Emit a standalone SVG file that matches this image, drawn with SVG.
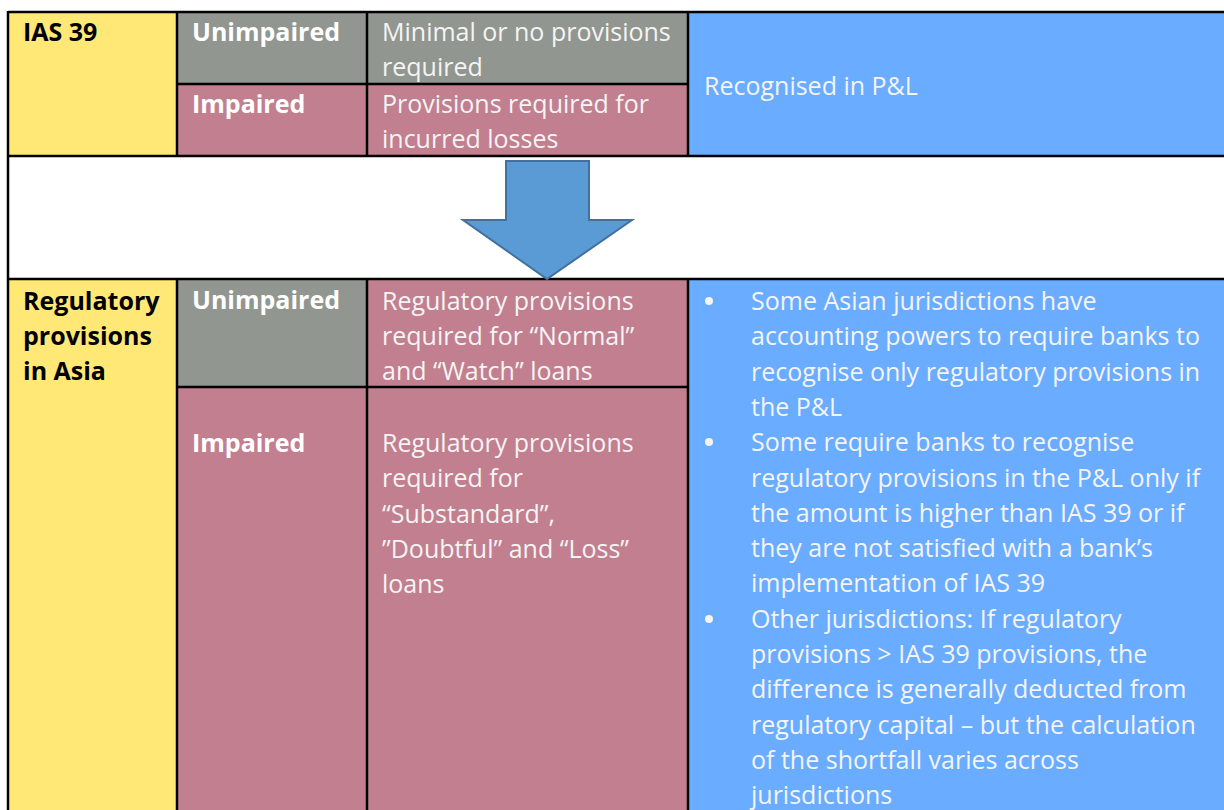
<svg xmlns="http://www.w3.org/2000/svg" width="1224" height="810" viewBox="0 0 1224 810">
<style>
.y{fill:#FFE876}.g{fill:#919690}.p{fill:#C27F8F}.b{fill:#6AACFF}
.t{font-family:"Open Sans","Noto Sans","Liberation Sans",sans-serif;font-size:25px;fill:#F4F4F4}
.tb{font-family:"Open Sans","Noto Sans","Liberation Sans",sans-serif;font-size:25px;font-weight:bold;fill:#FFFFFF}
.k{font-family:"Open Sans","Noto Sans","Liberation Sans",sans-serif;font-size:25px;font-weight:bold;fill:#000}
.ln{stroke:#000;stroke-width:2.5;fill:none}
</style>
<rect width="1224" height="810" fill="#fff"/>
<g id="ias39-label"><rect class="y" x="8" y="12" width="169" height="144"/><text class="k" x="23" y="41">IAS 39</text></g>
<g id="ias39-unimpaired"><rect class="g" x="177" y="12" width="190" height="72"/><text class="tb" x="192" y="41">Unimpaired</text></g>
<g id="ias39-unimpaired-desc"><rect class="g" x="367" y="12" width="321" height="72"/><text class="t" x="382" y="41">Minimal or no provisions</text><text class="t" x="382" y="76">required</text></g>
<g id="ias39-impaired"><rect class="p" x="177" y="84" width="190" height="72"/><text class="tb" x="192" y="113">Impaired</text></g>
<g id="ias39-impaired-desc"><rect class="p" x="367" y="84" width="321" height="72"/><text class="t" x="382" y="113">Provisions required for</text><text class="t" x="382" y="148">incurred losses</text></g>
<g id="ias39-pl"><rect class="b" x="688" y="12" width="536" height="144"/><text class="t" x="704" y="95">Recognised in P&amp;L</text></g>

<g id="asia-label"><rect class="y" x="8" y="279" width="169" height="531"/><text class="k" x="23" y="310">Regulatory</text><text class="k" x="23" y="345">provisions</text><text class="k" x="23" y="380">in Asia</text></g>
<g id="asia-unimpaired"><rect class="g" x="177" y="279" width="190" height="108"/><text class="tb" x="192" y="309">Unimpaired</text></g>
<g id="asia-unimpaired-desc"><rect class="p" x="367" y="279" width="321" height="108"/><text class="t" x="382" y="310">Regulatory provisions</text><text class="t" x="382" y="345">required for “Normal”</text><text class="t" x="382" y="380">and “Watch” loans</text></g>
<g id="asia-impaired"><rect class="p" x="177" y="387" width="190" height="423"/><text class="tb" x="192" y="452">Impaired</text></g>
<g id="asia-impaired-desc"><rect class="p" x="367" y="387" width="321" height="423"/><text class="t" x="382" y="452">Regulatory provisions</text><text class="t" x="382" y="487">required for</text><text class="t" x="382" y="523">“Substandard”,</text><text class="t" x="382" y="558">”Doubtful” and “Loss”</text><text class="t" x="382" y="593">loans</text></g>
<g id="asia-pl"><rect class="b" x="688" y="279" width="536" height="531"/>
<g fill="#F4F4F4"><circle cx="709" cy="301" r="4"/><circle cx="709" cy="442" r="4"/><circle cx="709" cy="619" r="4"/></g>
<text class="t" x="751" y="310">Some Asian jurisdictions have</text>
<text class="t" x="751" y="345.3">accounting powers to require banks to</text>
<text class="t" x="751" y="380.6">recognise only regulatory provisions in</text>
<text class="t" x="751" y="415.9">the P&amp;L</text>
<text class="t" x="751" y="451.2">Some require banks to recognise</text>
<text class="t" x="751" y="486.5">regulatory provisions in the P&amp;L only if</text>
<text class="t" x="751" y="521.8">the amount is higher than IAS 39 or if</text>
<text class="t" x="751" y="557.1">they are not satisfied with a bank’s</text>
<text class="t" x="751" y="592.4">implementation of IAS 39</text>
<text class="t" x="751" y="627.7">Other jurisdictions: If regulatory</text>
<text class="t" x="751" y="663">provisions &gt; IAS 39 provisions, the</text>
<text class="t" x="751" y="698.3">difference is generally deducted from</text>
<text class="t" x="751" y="733.6">regulatory capital – but the calculation</text>
<text class="t" x="751" y="768.9">of the shortfall varies across</text>
<text class="t" x="751" y="804.2">jurisdictions</text>
</g>

<g id="grid">
<path class="ln" d="M8 12H1224M8 156H1224M8 279H1224M8 11V810M177 12V156M367 12V156M688 12V156M177 84H688M177 279V810M367 279V810M688 279V810M177 387H688"/>
</g>
<g id="connectors">
<polygon points="506,161 589,161 589,220 632,220 547,279 463,220 506,220" fill="#5B9BD5" stroke="#41719C" stroke-width="2" stroke-linejoin="miter"/>
</g>
</svg>
